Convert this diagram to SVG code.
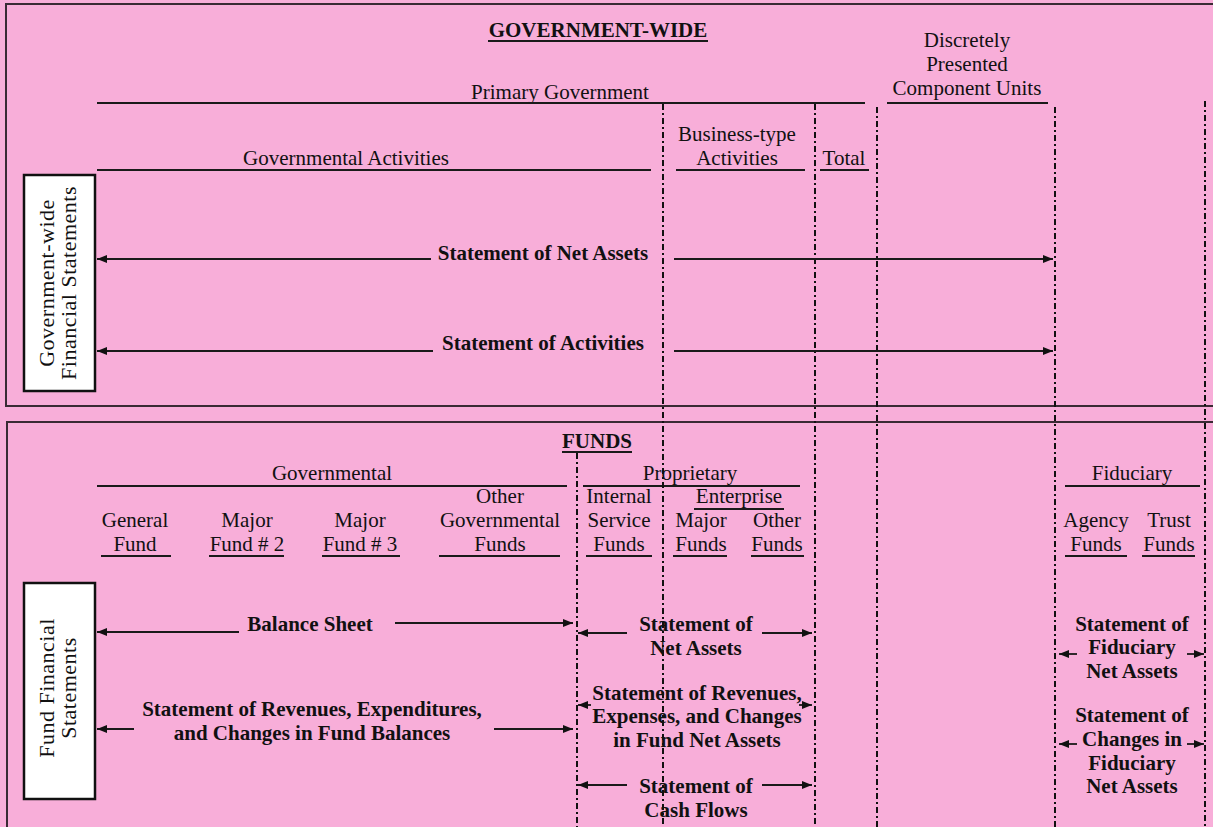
<svg xmlns="http://www.w3.org/2000/svg" width="1213" height="827" viewBox="0 0 1213 827">
  <style>
    .t { font-family: "Liberation Serif", "Times New Roman", serif; font-size: 21px; fill: #111; text-anchor: middle; }
    .b { font-family: "Liberation Serif", "Times New Roman", serif; font-size: 21px; font-weight: bold; fill: #111; text-anchor: middle; }
    .r { font-family: "Liberation Serif", "Times New Roman", serif; font-size: 22px; fill: #111; text-anchor: middle; letter-spacing: 0.5px; }
    .panel { fill: none; stroke: #3a2a34; stroke-width: 2; }
    .rule { stroke: #1a1a1a; stroke-width: 1.8; }
    .guide { stroke: #111; stroke-width: 2; stroke-dasharray: 6 3 2 3; fill: none; }
    .arrow { stroke: #1a1a1a; stroke-width: 1.8; fill: none; marker-end: url(#head); }
    .box { fill: #fff; stroke: #111; stroke-width: 2.5; }
  </style>
  <defs>
    <marker id="head" viewBox="0 0 10 8" refX="10" refY="4" markerWidth="10" markerHeight="8" markerUnits="userSpaceOnUse" orient="auto">
      <path d="M0,0 L10,4 L0,8 z" fill="#111"/>
    </marker>
  </defs>

  <!-- background and the two panels -->
  <rect x="0" y="0" width="1213" height="827" fill="#F8AED9"/>
  <rect class="panel" x="6" y="4" width="1230" height="402"/>
  <rect class="panel" x="7" y="422" width="1230" height="430"/>

  <!-- upper panel: government-wide headings -->
  <g id="gw-heading">
    <text class="b" x="598" y="37">GOVERNMENT-WIDE</text>
    <line class="rule" x1="488" y1="41" x2="708" y2="41"/>
  </g>
  <g id="primary-government">
    <text class="t" x="560" y="99">Primary Government</text>
    <line class="rule" x1="97" y1="103" x2="865" y2="103"/>
  </g>
  <g id="component-units">
    <text class="t" x="967" y="47">Discretely</text>
    <text class="t" x="967" y="71">Presented</text>
    <text class="t" x="967" y="95">Component Units</text>
    <line class="rule" x1="887" y1="103" x2="1048" y2="103"/>
  </g>
  <g id="governmental-activities">
    <text class="t" x="346" y="165">Governmental Activities</text>
    <line class="rule" x1="97" y1="170" x2="651" y2="170"/>
  </g>
  <g id="business-type">
    <text class="t" x="737" y="141">Business-type</text>
    <text class="t" x="737" y="165">Activities</text>
    <line class="rule" x1="676" y1="170" x2="805" y2="170"/>
  </g>
  <g id="total">
    <text class="t" x="844" y="165">Total</text>
    <line class="rule" x1="820" y1="170" x2="869" y2="170"/>
  </g>

  <g id="gw-statements-box">
    <rect class="box" x="24" y="175" width="71" height="216"/>
    <text class="r" transform="translate(54,283) rotate(-90)">Government-wide</text>
    <text class="r" transform="translate(76,283) rotate(-90)">Financial Statements</text>
  </g>
  <g id="net-assets-gw">
    <text class="b" x="543" y="260">Statement of Net Assets</text>
  </g>
  <g id="activities-gw">
    <text class="b" x="543" y="350">Statement of Activities</text>
  </g>

  <!-- lower panel: fund headings -->
  <g id="funds-heading">
    <text class="b" x="597" y="448">FUNDS</text>
    <line class="rule" x1="562" y1="452" x2="632" y2="452"/>
  </g>
  <g id="governmental">
    <text class="t" x="332" y="480">Governmental</text>
    <line class="rule" x1="97" y1="486" x2="567" y2="486"/>
  </g>
  <g id="proprietary">
    <text class="t" x="690" y="480">Proprietary</text>
    <line class="rule" x1="583" y1="486" x2="800" y2="486"/>
  </g>
  <g id="fiduciary">
    <text class="t" x="1132" y="480">Fiduciary</text>
    <line class="rule" x1="1065" y1="486" x2="1200" y2="486"/>
  </g>
  <g id="general-fund">
    <text class="t" x="135" y="527">General</text>
    <text class="t" x="135" y="551">Fund</text>
    <line class="rule" x1="101" y1="556" x2="171" y2="556"/>
  </g>
  <g id="major-fund-2">
    <text class="t" x="247" y="527">Major</text>
    <text class="t" x="247" y="551">Fund # 2</text>
    <line class="rule" x1="209" y1="556" x2="284" y2="556"/>
  </g>
  <g id="major-fund-3">
    <text class="t" x="360" y="527">Major</text>
    <text class="t" x="360" y="551">Fund # 3</text>
    <line class="rule" x1="322" y1="556" x2="400" y2="556"/>
  </g>
  <g id="other-governmental">
    <text class="t" x="500" y="503">Other</text>
    <text class="t" x="500" y="527">Governmental</text>
    <text class="t" x="500" y="551">Funds</text>
    <line class="rule" x1="439" y1="556" x2="560" y2="556"/>
  </g>
  <g id="internal-service">
    <text class="t" x="619" y="503">Internal</text>
    <text class="t" x="619" y="527">Service</text>
    <text class="t" x="619" y="551">Funds</text>
    <line class="rule" x1="586" y1="556" x2="652" y2="556"/>
  </g>
  <g id="enterprise">
    <text class="t" x="739" y="503">Enterprise</text>
    <line class="rule" x1="694" y1="509" x2="784" y2="509"/>
  </g>
  <g id="enterprise-major">
    <text class="t" x="701" y="527">Major</text>
    <text class="t" x="701" y="551">Funds</text>
    <line class="rule" x1="673" y1="556" x2="727" y2="556"/>
  </g>
  <g id="enterprise-other">
    <text class="t" x="777" y="527">Other</text>
    <text class="t" x="777" y="551">Funds</text>
    <line class="rule" x1="751" y1="556" x2="804" y2="556"/>
  </g>
  <g id="agency-funds">
    <text class="t" x="1096" y="527">Agency</text>
    <text class="t" x="1096" y="551">Funds</text>
    <line class="rule" x1="1065" y1="556" x2="1127" y2="556"/>
  </g>
  <g id="trust-funds">
    <text class="t" x="1169" y="527">Trust</text>
    <text class="t" x="1169" y="551">Funds</text>
    <line class="rule" x1="1142" y1="556" x2="1195" y2="556"/>
  </g>

  <g id="fund-statements-box">
    <rect class="box" x="24" y="583" width="71" height="216"/>
    <text class="r" transform="translate(54,688) rotate(-90)">Fund Financial</text>
    <text class="r" transform="translate(76,688) rotate(-90)">Statements</text>
  </g>
  <g id="balance-sheet">
    <text class="b" x="310" y="631">Balance Sheet</text>
  </g>
  <g id="gov-operations">
    <text class="b" x="312" y="716">Statement of Revenues, Expenditures,</text>
    <text class="b" x="312" y="740">and Changes in Fund Balances</text>
  </g>
  <g id="prop-net-assets">
    <text class="b" x="696" y="631">Statement of</text>
    <text class="b" x="696" y="655">Net Assets</text>
  </g>
  <g id="prop-operations">
    <text class="b" x="697" y="700">Statement of Revenues,</text>
    <text class="b" x="697" y="723">Expenses, and Changes</text>
    <text class="b" x="697" y="747">in Fund Net Assets</text>
  </g>
  <g id="prop-cash-flows">
    <text class="b" x="696" y="793">Statement of</text>
    <text class="b" x="696" y="817">Cash Flows</text>
  </g>
  <g id="fid-net-assets">
    <text class="b" x="1132" y="631">Statement of</text>
    <text class="b" x="1132" y="654">Fiduciary</text>
    <text class="b" x="1132" y="678">Net Assets</text>
  </g>
  <g id="fid-changes">
    <text class="b" x="1132" y="722">Statement of</text>
    <text class="b" x="1132" y="746">Changes in</text>
    <text class="b" x="1132" y="770">Fiduciary</text>
    <text class="b" x="1132" y="793">Net Assets</text>
  </g>

  <!-- column dividers (dash-dot) -->
  <g id="dividers">
    <line class="guide" x1="663" y1="104" x2="663" y2="827"/>
    <line class="guide" x1="815" y1="104" x2="815" y2="827"/>
    <line class="guide" x1="877" y1="107" x2="877" y2="827"/>
    <line class="guide" x1="1055" y1="107" x2="1055" y2="827"/>
    <line class="guide" x1="1205" y1="101" x2="1205" y2="827"/>
    <line class="guide" x1="577" y1="453" x2="577" y2="827"/>
  </g>

  <!-- statement span arrows -->
  <g id="connectors">
    <line class="arrow" x1="431" y1="259" x2="97" y2="259"/>
    <line class="arrow" x1="674" y1="259" x2="1053" y2="259"/>
    <line class="arrow" x1="433" y1="351" x2="97" y2="351"/>
    <line class="arrow" x1="674" y1="351" x2="1053" y2="351"/>

    <line class="arrow" x1="239" y1="632" x2="97" y2="632"/>
    <line class="arrow" x1="395" y1="623" x2="573" y2="623"/>
    <line class="arrow" x1="134" y1="729" x2="97" y2="729"/>
    <line class="arrow" x1="494" y1="729" x2="573" y2="729"/>

    <line class="arrow" x1="627" y1="633" x2="578" y2="633"/>
    <line class="arrow" x1="762" y1="633" x2="812" y2="633"/>
    <line class="arrow" x1="591" y1="705" x2="578" y2="705"/>
    <line class="arrow" x1="799" y1="705" x2="812" y2="705"/>
    <line class="arrow" x1="627" y1="785" x2="578" y2="785"/>
    <line class="arrow" x1="762" y1="785" x2="812" y2="785"/>

    <line class="arrow" x1="1077" y1="654" x2="1059" y2="654"/>
    <line class="arrow" x1="1187" y1="654" x2="1204" y2="654"/>
    <line class="arrow" x1="1077" y1="744" x2="1059" y2="744"/>
    <line class="arrow" x1="1187" y1="744" x2="1204" y2="744"/>
  </g>
</svg>
